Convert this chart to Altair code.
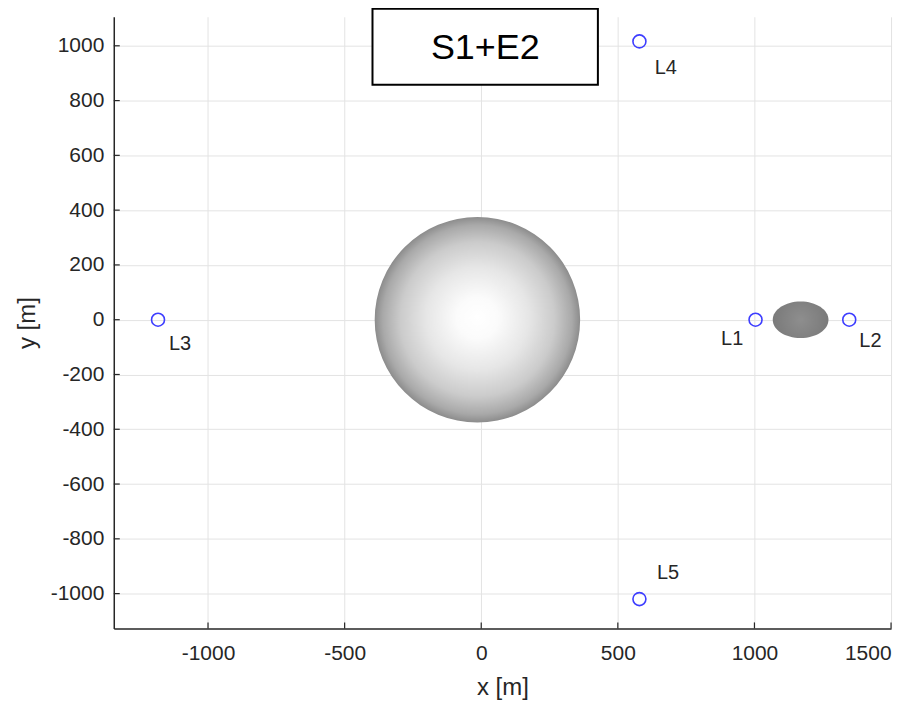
import altair as alt
import pandas as pd

# ---- data ----
L_names = ["L1", "L2", "L3", "L4", "L5"]
L_x = [1004, 1347, -1183, 579, 579]
L_y = [0, 0, 0, 1016, -1020]
label_x = [878, 1384, -1143, 635, 643]
label_y = [-69, -78, -87, 918, -925]

sphere_x, sphere_y, sphere_r = [-14], [0], [376]
ell_x, ell_y, ell_a, ell_b = [1169], [0], [102], [67]

box_x = [-398, 427]
box_y = [1135, 858]
box_text = "S1+E2"
box_text_xy = [15, 993]

x_ticks = [-1000, -500, 0, 500, 1000, 1500]
y_ticks = [-1000, -800, -600, -400, -200, 0, 200, 400, 600, 800, 1000]
x_dom = [-1345, 1500]
y_dom = [-1127, 1106]

W, H = 779, 613
px_per_m = W / (x_dom[1] - x_dom[0])

FONT = "Liberation Sans"
AX = "#262626"

xs = alt.Scale(domain=x_dom, nice=False, zero=False)
ys = alt.Scale(domain=y_dom, nice=False, zero=False)

xaxis = alt.Axis(values=x_ticks, title="x [m]", grid=True, ticks=False,
                 labelPadding=14, titlePadding=12,
                 labelExpr="'' + datum.value")
yaxis = alt.Axis(values=y_ticks, title="y [m]", grid=True, ticks=False,
                 labelPadding=10, titlePadding=11,
                 labelExpr="'' + datum.value")

base_x = alt.X("x:Q", scale=xs, axis=xaxis)
base_y = alt.Y("y:Q", scale=ys, axis=yaxis)

# sphere
sph_df = pd.DataFrame({"x": sphere_x, "y": sphere_y, "r": sphere_r})
sph_size = (2 * sphere_r[0] * px_per_m) ** 2
sphere = alt.Chart(sph_df).mark_point(
    shape="circle", filled=True, size=sph_size, opacity=1, strokeWidth=0,
    fill=alt.Gradient(gradient="radial",
                      stops=[alt.GradientStop(offset=0, color="#ffffff"),
                             alt.GradientStop(offset=0.2, color="#fbfbfb"),
                             alt.GradientStop(offset=0.5, color="#e6e6e6"),
                             alt.GradientStop(offset=0.75, color="#cbcbcb"),
                             alt.GradientStop(offset=0.92, color="#a9a9a9"),
                             alt.GradientStop(offset=1, color="#8c8c8c")],
                      x1=0.5, y1=0.49, r1=0, x2=0.5, y2=0.5, r2=0.5),
).encode(x=base_x, y=base_y)

# ellipse
ell_df = pd.DataFrame({"x": ell_x, "y": ell_y})
ratio = ell_b[0] / ell_a[0]
ell_path = f"M-1,0A1,{ratio:.3f},0,1,0,1,0A1,{ratio:.3f},0,1,0,-1,0Z"
ell_size = (2 * ell_a[0] * px_per_m) ** 2
ellipse = alt.Chart(ell_df).mark_point(
    shape=ell_path, filled=True, size=ell_size, opacity=1, strokeWidth=0,
    fill=alt.Gradient(gradient="radial",
                      stops=[alt.GradientStop(offset=0, color="#8e8e8e"),
                             alt.GradientStop(offset=1, color="#7a7a7a")]),
).encode(x="x:Q", y="y:Q")

# Lagrange points
L_df = pd.DataFrame({"name": L_names, "x": L_x, "y": L_y,
                     "lx": label_x, "ly": label_y})
points = alt.Chart(L_df).mark_point(
    shape="circle", filled=False, size=169, stroke="#3d3dff", strokeWidth=1.6, opacity=1
).encode(x="x:Q", y="y:Q")
labels = alt.Chart(L_df).mark_text(
    align="left", baseline="middle", fontSize=20, font=FONT, color=AX
).encode(x="lx:Q", y="ly:Q", text="name:N")

# inward ticks
xt_df = pd.DataFrame({"x": x_ticks})
yt_df = pd.DataFrame({"y": y_ticks})
xticks = alt.Chart(xt_df).mark_rule(color=AX, strokeWidth=1.2).encode(
    x="x:Q", y=alt.value(H), y2=alt.value(H - 6))
yticks = alt.Chart(yt_df).mark_rule(color=AX, strokeWidth=1.2).encode(
    y="y:Q", x=alt.value(0), x2=alt.value(6))

# title box
box_df = pd.DataFrame({"x": [box_x[0]], "x2": [box_x[1]],
                       "y": [box_y[0]], "y2": [box_y[1]],
                       "tx": [box_text_xy[0]], "ty": [box_text_xy[1]],
                       "t": [box_text]})
box = alt.Chart(box_df).mark_rect(fill="white", stroke="black", strokeWidth=2).encode(
    x="x:Q", x2="x2:Q", y="y:Q", y2="y2:Q")
box_label = alt.Chart(box_df).mark_text(
    fontSize=36, font=FONT, color="black", align="center", baseline="middle"
).encode(x="tx:Q", y="ty:Q", text="t:N")

chart = alt.layer(
    sphere, ellipse, points, labels, xticks, yticks, box, box_label
).properties(
    width=W, height=H,
    autosize=alt.AutoSizeParams(type="none"),
    padding={"left": 106, "top": 8, "right": 20, "bottom": 78},
).configure_view(stroke=None).configure_axis(
    gridColor="#e3e3e3", gridWidth=1, domainColor=AX, domainWidth=1.5,
    labelColor=AX, titleColor=AX, labelFont=FONT, titleFont=FONT,
    labelFontSize=21, titleFontSize=24, titleFontWeight="normal",
)

chart.save("out.html", embed_options={"renderer": "svg", "actions": False})
